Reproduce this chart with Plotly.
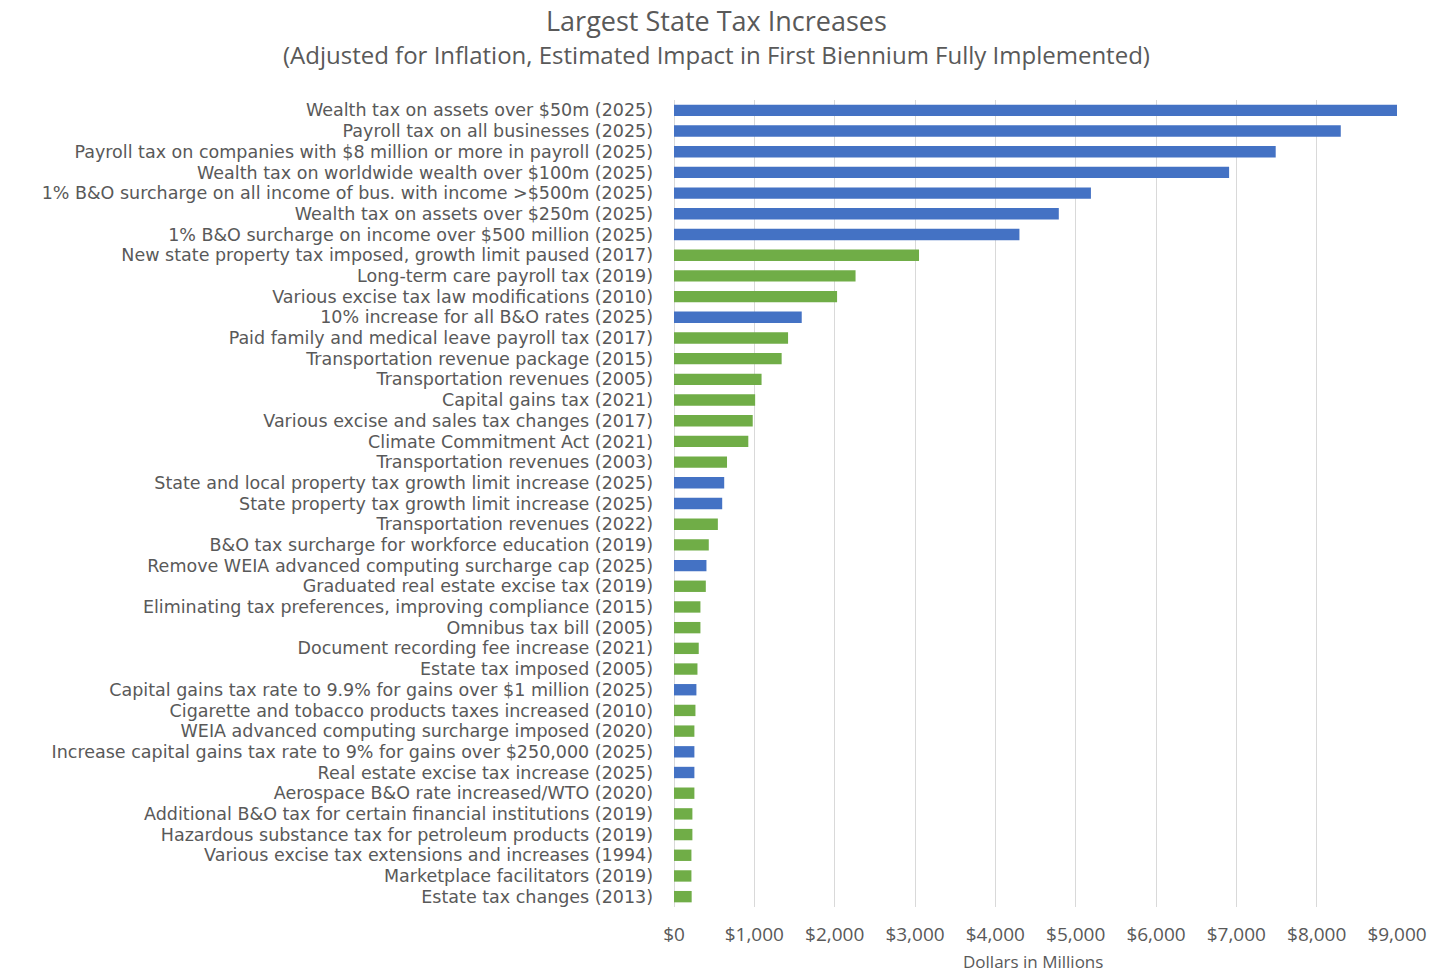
import plotly.graph_objects as go

categories = [
    "Wealth tax on assets over $50m (2025)",
    "Payroll tax on all businesses (2025)",
    "Payroll tax on companies with $8 million or more in payroll (2025)",
    "Wealth tax on worldwide wealth over $100m (2025)",
    "1% B&O surcharge on all income of bus. with income >$500m (2025)",
    "Wealth tax on assets over $250m (2025)",
    "1% B&O surcharge on income over $500 million (2025)",
    "New state property tax imposed, growth limit paused (2017)",
    "Long-term care payroll tax (2019)",
    "Various excise tax law modifications (2010)",
    "10% increase for all B&O rates (2025)",
    "Paid family and medical leave payroll tax (2017)",
    "Transportation revenue package (2015)",
    "Transportation revenues (2005)",
    "Capital gains tax (2021)",
    "Various excise and sales tax changes (2017)",
    "Climate Commitment Act (2021)",
    "Transportation revenues (2003)",
    "State and local property tax growth limit increase (2025)",
    "State property tax growth limit increase (2025)",
    "Transportation revenues (2022)",
    "B&O tax surcharge for workforce education (2019)",
    "Remove WEIA advanced computing surcharge cap (2025)",
    "Graduated real estate excise tax (2019)",
    "Eliminating tax preferences, improving compliance (2015)",
    "Omnibus tax bill (2005)",
    "Document recording fee increase (2021)",
    "Estate tax imposed (2005)",
    "Capital gains tax rate to 9.9% for gains over $1 million (2025)",
    "Cigarette and tobacco products taxes increased (2010)",
    "WEIA advanced computing surcharge imposed (2020)",
    "Increase capital gains tax rate to 9% for gains over $250,000 (2025)",
    "Real estate excise tax increase (2025)",
    "Aerospace B&O rate increased/WTO (2020)",
    "Additional B&O tax for certain financial institutions (2019)",
    "Hazardous substance tax for petroleum products (2019)",
    "Various excise tax extensions and increases (1994)",
    "Marketplace facilitators (2019)",
    "Estate tax changes (2013)",
]

values = [
    9000, 8300, 7490, 6910, 5190, 4790, 4300, 3050, 2260, 2030,
    1590, 1420, 1340, 1090, 1010, 980, 925, 660, 625, 600,
    546, 433, 404, 396, 329, 329, 308, 292, 279, 267,
    254, 254, 254, 254, 229, 229, 217, 217, 220,
]

# True = proposed (2025), False = enacted
proposed = [
    True, True, True, True, True, True, True, False, False, False,
    True, False, False, False, False, False, False, False, True, True,
    False, False, True, False, False, False, False, False, True, False,
    False, True, True, False, False, False, False, False, False,
]

BLUE = "#4472C4"
GREEN = "#70AD47"
colors = [BLUE if p else GREEN for p in proposed]

x_ticks = [0, 1000, 2000, 3000, 4000, 5000, 6000, 7000, 8000, 9000]
x_tick_labels = ["$0", "$1,000", "$2,000", "$3,000", "$4,000", "$5,000",
                 "$6,000", "$7,000", "$8,000", "$9,000"]

FONT = "Open Sans"
LABEL_FONT = "DejaVu Sans"
GRAY = "#595959"

W, H = 1440, 974
ML, MR, MT, MB = 674, 43, 100, 67

fig = go.Figure(go.Bar(
    x=values, y=categories, orientation="h",
    marker=dict(color=colors, line=dict(width=0)),
    hovertemplate="%{y}: $%{x:,}m<extra></extra>",
))

pw = W - ML - MR
ph = H - MT - MB

def px_to_paper(xpx, ypx):
    return (xpx - ML) / pw, (H - MB - ypx) / ph

ann_specs = [
    ("Largest State Tax Increases", 716, 20, 27),
    ("(Adjusted for Inflation, Estimated Impact in First Biennium Fully Implemented)", 716, 55, 24),
    ("Dollars in Millions", 1033, 961, 17),
]
annotations = []
for text, xp, yp, size in ann_specs:
    ax, ay = px_to_paper(xp, yp)
    annotations.append(dict(text=text, x=ax, y=ay, xref="paper", yref="paper",
                            xanchor="center", yanchor="middle", showarrow=False,
                            font=dict(size=size, color=GRAY, family=FONT)))

fig.update_layout(
    width=W, height=H,
    margin=dict(l=ML, r=MR, t=MT, b=MB, autoexpand=False),
    paper_bgcolor="white", plot_bgcolor="white",
    bargap=0.45,
    showlegend=False,
    font=dict(family=FONT, color=GRAY),
    annotations=annotations,
)

fig.update_xaxes(
    range=[0, 9000], tickvals=x_ticks, ticktext=x_tick_labels,
    showgrid=True, gridcolor="#D9D9D9", gridwidth=1,
    zeroline=True, zerolinecolor="#D9D9D9", zerolinewidth=1,
    showline=False, ticks="", ticklabelstandoff=14, automargin=False,
    tickfont=dict(size=19, color=GRAY, family=FONT),
)
fig.update_yaxes(
    autorange="reversed", showgrid=False, showline=False, ticks="",
    tickmode="array", tickvals=categories, ticktext=categories,
    ticklabelstandoff=20, automargin=False,
    tickfont=dict(size=17.5, color=GRAY, family=LABEL_FONT),
)

fig.write_html("out.html")
